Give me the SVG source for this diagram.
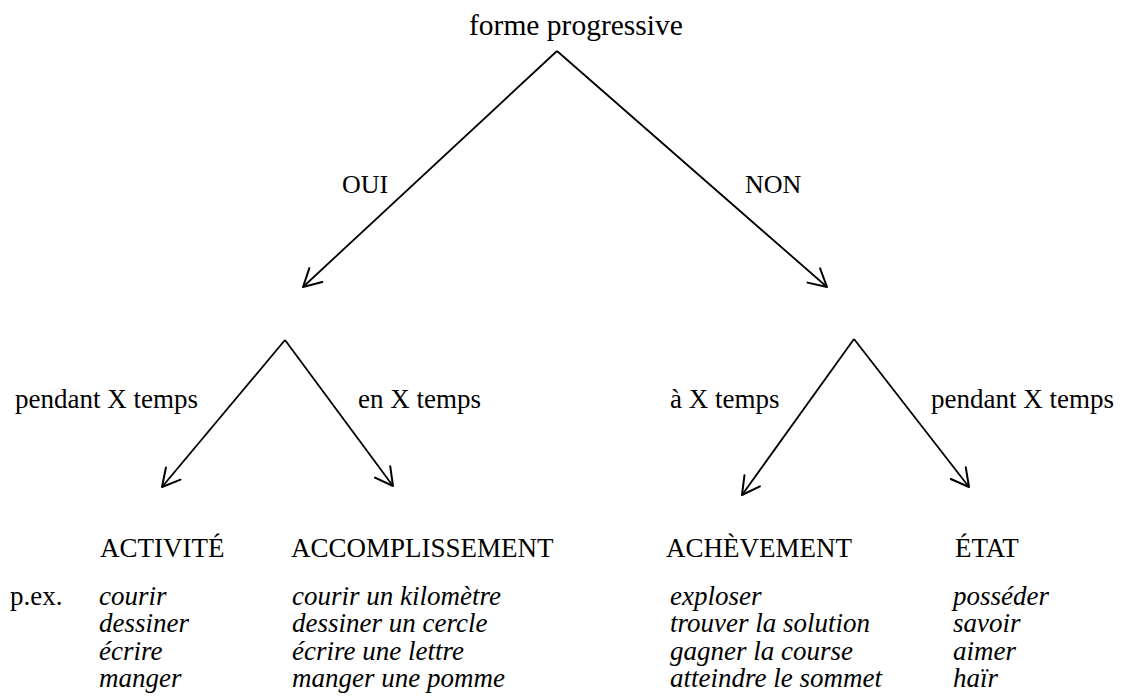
<svg xmlns="http://www.w3.org/2000/svg" width="1121" height="699" viewBox="0 0 1121 699">
  <defs>
    <marker id="arrow" markerUnits="userSpaceOnUse" markerWidth="30" markerHeight="30" refX="0" refY="0" viewBox="-20 -15 30 30" orient="auto" overflow="visible">
      <path d="M-17.5,-9.5 L0,0 L-17.5,9.5" fill="none" stroke="#000" stroke-width="2" stroke-linecap="round" stroke-linejoin="round"/>
    </marker>
    <style>
      text { font-family: "Liberation Serif", "Times New Roman", serif; fill: #000; }
      .title { font-size: 29.5px; }
      .lbl { font-size: 27px; }
      .yn { font-size: 26px; }
      .cat { font-size: 27px; }
      .ex { font-size: 27px; font-style: italic; }
      .edge { stroke: #000; stroke-width: 1.8; fill: none; marker-end: url(#arrow); }
    </style>
  </defs>
  <rect width="1121" height="699" fill="#fff"/>

  <!-- decision branches -->
  <g id="connectors">
    <line class="edge" x1="557" y1="51" x2="303" y2="287"/>
    <line class="edge" x1="557" y1="51" x2="827" y2="287"/>
    <line class="edge" x1="285" y1="340" x2="162" y2="487"/>
    <line class="edge" x1="285" y1="340" x2="393" y2="486"/>
    <line class="edge" x1="854" y1="339" x2="742" y2="495"/>
    <line class="edge" x1="854" y1="339" x2="969" y2="487"/>
  </g>

  <g id="root"><text class="title" x="469" y="35">forme progressive</text></g>
  <g id="edge-oui"><text class="yn" x="342" y="193">OUI</text></g>
  <g id="edge-non"><text class="yn" x="745" y="193">NON</text></g>

  <g id="lbl-pendant-1"><text class="lbl" x="15" y="408">pendant X temps</text></g>
  <g id="lbl-en"><text class="lbl" x="358" y="408">en X temps</text></g>
  <g id="lbl-a"><text class="lbl" x="670" y="408">à X temps</text></g>
  <g id="lbl-pendant-2"><text class="lbl" x="931" y="408">pendant X temps</text></g>

  <g id="pex"><text class="lbl" x="10" y="604.5">p.ex.</text></g>

  <g id="activite">
    <text class="cat" x="100" y="557">ACTIVITÉ</text>
    <text class="ex" x="99" y="604.5">courir</text>
    <text class="ex" x="99" y="632">dessiner</text>
    <text class="ex" x="99" y="659.5">écrire</text>
    <text class="ex" x="99" y="687">manger</text>
  </g>
  <g id="accomplissement">
    <text class="cat" x="291" y="557">ACCOMPLISSEMENT</text>
    <text class="ex" x="292" y="604.5">courir un kilomètre</text>
    <text class="ex" x="292" y="632">dessiner un cercle</text>
    <text class="ex" x="292" y="659.5">écrire une lettre</text>
    <text class="ex" x="292" y="687">manger une pomme</text>
  </g>
  <g id="achevement">
    <text class="cat" x="666" y="557">ACHÈVEMENT</text>
    <text class="ex" x="670" y="604.5">exploser</text>
    <text class="ex" x="670" y="632">trouver la solution</text>
    <text class="ex" x="670" y="659.5">gagner la course</text>
    <text class="ex" x="670" y="687">atteindre le sommet</text>
  </g>
  <g id="etat">
    <text class="cat" x="955" y="557">ÉTAT</text>
    <text class="ex" x="953" y="604.5">posséder</text>
    <text class="ex" x="953" y="632">savoir</text>
    <text class="ex" x="953" y="659.5">aimer</text>
    <text class="ex" x="953" y="687">haïr</text>
  </g>
</svg>
